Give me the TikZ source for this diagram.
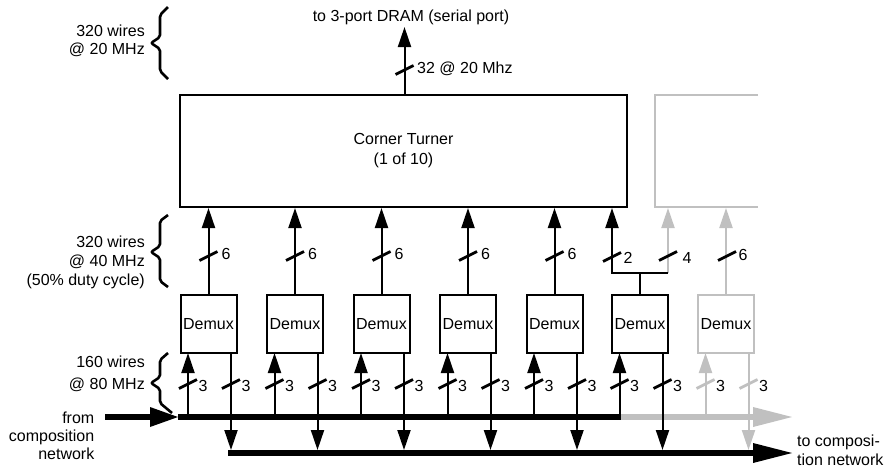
\documentclass[tikz,border=0pt]{standalone}
\usepackage{fontspec}
\setmainfont{Liberation Sans}
\usetikzlibrary{arrows.meta,calc}
\definecolor{lg}{RGB}{192,192,192}
\newcommand\wslash[3][black]{\draw[slashmk,#1] (#2-9,#3+4.5) -- (#2+9,#3-4.5);}
\begin{document}
\begin{tikzpicture}[x=1pt,y=-1pt,
  every node/.style={font=\fontsize{16}{19}\selectfont},
  wire/.style={line width=2pt},
  arr/.style={wire,-{Triangle[length=20pt,width=13pt]}},
  bus/.style={line width=6pt},
  bigtip/.style={-{Triangle[length=#1,width=20pt,line width=0pt]}},
  box/.style={draw,line width=2pt,minimum width=56pt,minimum height=58pt,inner sep=0pt},
  slashmk/.style={line width=2.8pt},
  brace/.style={line width=2.6pt,rounded corners=2pt},
  lbl/.style={align=right,anchor=east,inner sep=0pt}]
\useasboundingbox (0,0) rectangle (884,469);

% left labels and braces
\node[lbl] (l1) at (145,41) {320 wires\\[-1.5pt]@ 20 MHz};
\draw[brace] (168,7) -- (160,15) -- (160,37) -- (151,43) -- (160,49) -- (160,71) -- (168,79);
\node[lbl] (l2) at (145,262) {320 wires\\@ 40 MHz\\(50\% duty cycle)};
\draw[brace] (168,215) -- (160,221) -- (160,246) -- (151,252) -- (160,258) -- (160,281) -- (168,287);
\node[lbl] (l3) at (145,374) {160 wires\\[2.6pt]@ 80 MHz};
\draw[brace] (168,353) -- (160,360) -- (160,377) -- (151,383) -- (160,389) -- (160,403) -- (172,413);
\node[lbl] (l4) at (94.5,435.5) {from\\[-1pt]composition\\[-1pt]network};
\node[align=left,anchor=west,inner sep=0pt] (l5) at (797,450.5) {to composi-\\[0.5pt]tion network};

% corner turner
\node[draw,line width=2pt,minimum width=447pt,minimum height=112pt,align=center,inner sep=0pt] (ct) at (403.5,151) {Corner Turner\\[1pt](1 of 10)};
\draw[lg,line width=2pt] (758,95) -- (655,95) -- (655,207) -- (758,207);

% top output
\node (dram) at (411,17) {to 3-port DRAM (serial port)};
\coordinate (dtip) at (404.5,27);
\draw[arr] (ct.north -| dtip) -- (dtip);
\wslash{404.5}{70}
\node[anchor=west,inner sep=0pt] (w32) at (417,69) {32 @ 20 Mhz};

% buses
\coordinate (b1s) at (105,417);
\coordinate (b1m) at (178,417);
\coordinate (b1e) at (621,417);
\coordinate (b1g) at (792,417);
\coordinate (b2s) at (228,453);
\coordinate (b2e) at (792,453);
\coordinate (b2t) at (228,450);
\draw[bus,bigtip=28pt] (b1s) -- (b1m);
\draw[bus] (b1m) -- (b1e);
\draw[bus,lg,bigtip=39pt] (b1e) -- (b1g);
\draw[bus,bigtip=39pt] (b2s) -- (b2e);

% demux units
\foreach \n/\c in {1/208.5,2/295,3/381.5,4/468,5/554.5,6/640} {
  \node[box] (d\n) at (\c,324) {Demux};
  \coordinate (u\n) at (\c-20.5,353);
  \coordinate (w\n) at (\c+22.5,353);
  \draw[arr] (u\n |- b1s) -- (u\n);
  \draw[arr] (w\n) -- (w\n |- b2t);
  \wslash{\c-20.5}{384}
  \wslash{\c+22.5}{384}
  \node at ({\c-5.5},385.5) {3};
  \node at ({\c+37.5},385.5) {3};
}
\foreach \n/\c in {1/208.5,2/295,3/381.5,4/468,5/554.5} {
  \draw[arr] (d\n.north) -- (d\n.north |- ct.south);
  \wslash{\c}{256}
  \node at ({\c+17.5},254) {6};
}

% demux 6 fork
\coordinate (fkc) at (640,273);
\coordinate (fkl) at (612,273);
\coordinate (fkr) at (668,273);
\draw[wire] (d6.north) -- (fkc);
\draw[arr,lg] (fkr) -- (fkr |- ct.south);
\draw[arr] (fkr) -- (fkl) -- (fkl |- ct.south);
\wslash{612}{257}
\node at (628,258) {2};
\wslash{668}{256}
\node at (687,258) {4};

% gray demux
\node[box,draw=lg] (d7) at (726,324) {Demux};
\coordinate (u7) at (705.5,353);
\coordinate (w7) at (748.5,353);
\draw[arr,lg] (d7.north) -- (d7.north |- ct.south);
\wslash{727}{256}
\node at (743,255) {6};
\draw[arr,lg] (u7 |- b1s) -- (u7);
\draw[arr,lg] (w7) -- (w7 |- b2t);
\wslash[lg]{705.5}{384}
\wslash[lg]{748.5}{384}
\node at (720.5,385.5) {3};
\node at (763.5,385.5) {3};
\end{tikzpicture}
\end{document}
